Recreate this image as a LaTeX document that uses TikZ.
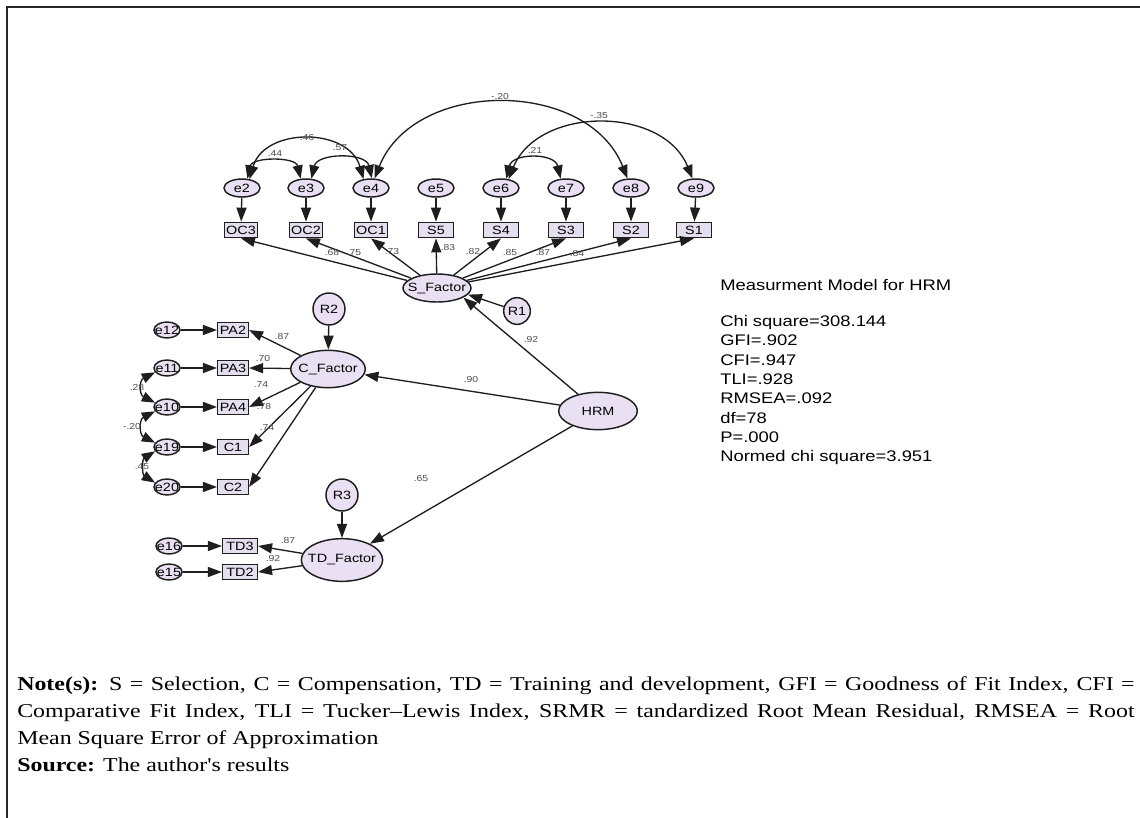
\documentclass[tikz,border=0pt]{standalone}
\usepackage{fontspec}
\usetikzlibrary{arrows.meta,shapes.geometric}
\newfontfamily\dfont[FakeStretch=1.2]{Liberation Sans}
\newfontfamily\notefont[FakeStretch=1.22]{Liberation Serif}
\newcommand\ctr[1]{\makebox[0pt]{#1}}
\definecolor{nodefill}{RGB}{233,225,243}
\definecolor{boxfill}{RGB}{229,222,239}
\definecolor{edge}{RGB}{30,30,30}
\begin{document}
\begin{tikzpicture}[x=0.75pt,y=-0.75pt,
  every node/.style={font=\dfont\fontsize{9}{10}\selectfont, text=black},
  latent/.style={ellipse, draw=edge, fill=nodefill, line width=1.1pt, inner sep=0pt},
  err/.style={latent, minimum width=27pt, minimum height=13.5pt},
  errs/.style={latent, minimum width=19.5pt, minimum height=12pt},
  resid/.style={circle, draw=edge, fill=nodefill, line width=1.1pt, inner sep=0pt},
  obs/.style={rectangle, draw=edge, fill=boxfill, line width=1.1pt, inner sep=0pt, minimum height=11.5pt, minimum width=25pt},
  reg/.style={-{Triangle[length=10.5pt,width=7.5pt]}, draw=edge, line width=1pt},
  covar/.style={{Triangle[length=10pt,width=7.5pt]}-{Triangle[length=10pt,width=7.5pt]}, draw=edge, line width=1pt},
  coef/.style={font=\dfont\fontsize{6.5}{7}\selectfont, text=black!70, inner sep=0pt},
  stat/.style={font=\dfont\fontsize{11.5}{14.5}\selectfont, align=left, inner sep=0pt, anchor=west},
  note/.style={font=\notefont\fontsize{14.7}{20}\selectfont, inner sep=0pt, anchor=base west},
]
\useasboundingbox (0,0) rectangle (1140,818);
% frame
\draw[line width=1.5pt, black!85] (7,818) -- (7,7) -- (1140,7);

% ---- Selection block: error terms and indicators
\foreach \n/\x in {2/242,3/306,4/371,5/436,6/501,7/566,8/631,9/696}
  \node[err] (e\n) at (\x,188) {\ctr{e\n}};
\node[obs] (OC3) at (241,230) {\ctr{OC3}};
\node[obs] (OC2) at (306,230) {\ctr{OC2}};
\node[obs] (OC1) at (371,230) {\ctr{OC1}};
\node[obs, minimum width=26pt] (S5) at (436,230) {\ctr{S5}};
\node[obs, minimum width=26pt] (S4) at (501,230) {\ctr{S4}};
\node[obs, minimum width=26pt] (S3) at (566,230) {\ctr{S3}};
\node[obs, minimum width=26pt] (S2) at (631,230) {\ctr{S2}};
\node[obs, minimum width=26pt] (S1) at (694,230) {\ctr{S1}};

\draw[reg] (e2) -- (OC3);
\draw[reg] (e3) -- (OC2);
\draw[reg] (e4) -- (OC1);
\draw[reg] (e5) -- (S5);
\draw[reg] (e6) -- (S4);
\draw[reg] (e7) -- (S3);
\draw[reg] (e8) -- (S2);
\draw[reg] (e9) -- (S1);

% covariances between error terms
\draw[covar] (e2.60) .. controls +(5,-22) and +(-5,-22) .. (e3.120);
\draw[covar] (e2.50) .. controls +(15,-52) and +(-15,-52) .. (e4.130);
\draw[covar] (e3.60) .. controls +(6,-26) and +(-6,-26) .. (e4.85);
\draw[covar] (e4.70) .. controls +(40,-100) and +(-40,-100) .. (e8.110);
\draw[covar] (e6.60) .. controls +(6,-26) and +(-6,-26) .. (e7.120);
\draw[covar] (e6.50) .. controls +(30,-73) and +(-30,-73) .. (e9.110);
\node[coef] (c44) at (275,154) {.44};
\node[coef] (c46) at (307,138) {.46};
\node[coef] (c57) at (340,148) {.57};
\node[coef] (c20a) at (500,97) {-.20};
\node[coef] (c21) at (535,150) {.21};
\node[coef] (c35) at (599,116) {-.35};

% ---- latent factors
\node[latent, minimum width=51pt, minimum height=21pt] (SF) at (437,288) {\ctr{S\_Factor}};
\node[resid, minimum size=20pt] (R1) at (517,311) {\ctr{R1}};
\node[latent, minimum width=59pt, minimum height=28pt] (HRM) at (598,411) {\ctr{HRM}};
\node[latent, minimum width=56pt, minimum height=28pt] (CF) at (328,369) {\ctr{C\_Factor}};
\node[resid, minimum size=24pt] (R2) at (329,309) {\ctr{R2}};
\node[latent, minimum width=61pt, minimum height=32pt] (TD) at (342,560) {\ctr{TD\_Factor}};
\node[resid, minimum size=24pt] (R3) at (342,495) {\ctr{R3}};

\draw[reg] (SF) -- (OC3.south);
\draw[reg] (SF) -- (OC2.south);
\draw[reg] (SF) -- (OC1.south);
\draw[reg] (SF) -- (S5.south);
\draw[reg] (SF) -- (S4.south);
\draw[reg] (SF) -- (S3.south);
\draw[reg] (SF) -- (S2.south);
\draw[reg] (SF) -- (S1.south);
\node[coef] (l68) at (332,253) {.68};
\node[coef] (l75) at (354,253) {.75};
\node[coef] (l73) at (392,252) {.73};
\node[coef] (l83) at (448,248) {.83};
\node[coef] (l82) at (473,252) {.82};
\node[coef] (l85) at (510,253) {.85};
\node[coef] (l87) at (543,253) {.87};
\node[coef] (l84) at (577,254) {.84};

\draw[reg] (R1) -- (SF.-12);
\draw[reg] (HRM) -- (SF.-20);
\draw[reg] (HRM) -- (CF);
\draw[reg] (HRM) -- (TD);
\draw[reg] (R2) -- (CF);
\draw[reg] (R3) -- (TD);
\node[coef] (s92) at (531,340) {.92};
\node[coef] (s90) at (471,380) {.90};
\node[coef] (s65) at (421,479) {.65};

% ---- Compensation block
\foreach \n/\b/\y in {12/PA2/330,11/PA3/368,10/PA4/407,19/C1/447,20/C2/487}{
  \node[errs] (e\n) at (167,\y) {\ctr{e\n}};
  \node[obs, minimum width=23pt] (\b) at (233,\y) {\ctr{\b}};
  \draw[reg] (e\n) -- (\b);
  \draw[reg] (CF) -- (\b.east);
}
\node[coef] (p87) at (282,337) {.87};
\node[coef] (p70) at (263,359) {.70};
\node[coef] (p74) at (261,385) {.74};
\node[coef] (p78) at (264,407) {.78};
\node[coef] (p74b) at (267,428) {.74};

\draw[covar] (e11.200) .. controls +(-16,8) and +(-16,-8) .. (e10.160);
\draw[covar] (e10.200) .. controls +(-16,8) and +(-16,-8) .. (e19.160);
\draw[covar] (e19.200) .. controls +(-13,8) and +(-13,-8) .. (e20.160);
\node[coef] (k28) at (137,388) {.28};
\node[coef] (k20) at (132,427) {-.20};
\node[coef] (k45) at (142,467) {.45};

% ---- Training and development block
\node[errs] (e16) at (169,546) {\ctr{e16}};
\node[errs] (e15) at (169,572) {\ctr{e15}};
\node[obs, minimum width=26pt] (TD3) at (240,546) {\ctr{TD3}};
\node[obs, minimum width=26pt] (TD2) at (240,572) {\ctr{TD2}};
\draw[reg] (e16) -- (TD3);
\draw[reg] (e15) -- (TD2);
\draw[reg] (TD) -- (TD3.east);
\draw[reg] (TD) -- (TD2.east);
\node[coef] (t87) at (288,541) {.87};
\node[coef] (t92) at (273,559) {.92};

% ---- fit statistics
\node[stat] (title) at (720,285) {Measurment Model for HRM};
\node[stat, anchor=north west] (fit) at (720,315) {Chi square=308.144\\GFI=.902\\CFI=.947\\TLI=.928\\RMSEA=.092\\df=78\\P=.000\\Normed chi square=3.951};

% ---- note below the figure
\node[note] (n1) at (17,690) {\makebox[838pt][s]{\textbf{Note(s):} S = Selection, C = Compensation, TD = Training and development, GFI = Goodness of Fit Index, CFI =}};
\node[note] (n2) at (17,717) {\makebox[838pt][s]{Comparative Fit Index, TLI = Tucker–Lewis Index, SRMR = tandardized Root Mean Residual, RMSEA = Root}};
\node[note] (n3) at (17,744) {Mean Square Error of Approximation};
\node[note] (n4) at (17,771) {\textbf{Source:} The author's results};
\end{tikzpicture}
\end{document}
